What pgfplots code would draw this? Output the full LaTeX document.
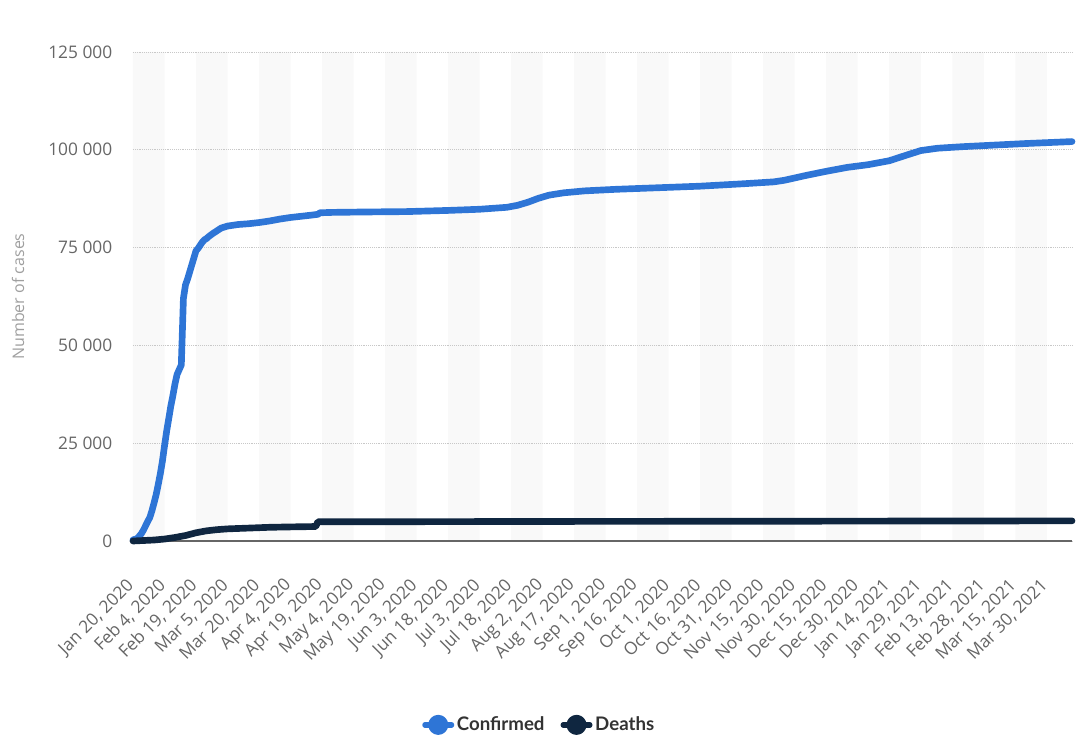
\documentclass[border=0pt]{standalone}
\usepackage{pgfplots}
\pgfplotsset{compat=1.18}
\usepackage{fontspec}
\setmainfont{Open Sans}
\newfontfamily\legendfont{Lato}
\definecolor{conf}{HTML}{2E75D6}
\definecolor{death}{HTML}{0F2640}
\definecolor{tickc}{HTML}{666666}
\definecolor{stripe}{HTML}{F9F9F9}
\definecolor{gridc}{HTML}{C8C8C8}

\begin{document}
\begin{tikzpicture}
\begin{axis}[
  set layers,
  scale only axis,
  width=704.25pt, height=366.75pt,
  xmin=0, xmax=447, ymin=0, ymax=125000,
  clip=false,
  scaled y ticks=false,
  axis line style={draw=none},
  tick style={draw=none},
  ytick={0,25000,50000,75000,100000,125000},
  yticklabels={0,25 000,50 000,75 000,100 000,125 000},
  yticklabel style={font=\fontsize{13}{15}\selectfont, color=tickc, xshift=-12pt},
  xtick={0,15,...,435},
  xticklabels={{Jan 20, 2020},{Feb 4, 2020},{Feb 19, 2020},{Mar 5, 2020},{Mar 20, 2020},{Apr 4, 2020},{Apr 19, 2020},{May 4, 2020},{May 19, 2020},{Jun 3, 2020},{Jun 18, 2020},{Jul 3, 2020},{Jul 18, 2020},{Aug 2, 2020},{Aug 17, 2020},{Sep 1, 2020},{Sep 16, 2020},{Oct 1, 2020},{Oct 16, 2020},{Oct 31, 2020},{Nov 15, 2020},{Nov 30, 2020},{Dec 15, 2020},{Dec 30, 2020},{Jan 14, 2021},{Jan 29, 2021},{Feb 13, 2021},{Feb 28, 2021},{Mar 15, 2021},{Mar 30, 2021}},
  xticklabel style={font=\fontsize{13}{15}\selectfont, color=tickc, yshift=-29pt, xshift=1pt, rotate=45, anchor=east},
  ymajorgrids,
  grid style={densely dotted, gridc, line width=0.7pt},
  every axis y label/.style={at={(axis description cs:-0.1225,0.5)}, rotate=90, anchor=center, font=\fontsize{12}{14}\selectfont, color=gray!75},
  ylabel={Number of cases},
  legend style={at={(0.433,-0.376)}, anchor=center, draw=none, fill=none, legend columns=2,
    font=\legendfont\bfseries\fontsize{14}{16}\selectfont, text=black!80,
    /tikz/every even column/.append style={column sep=10pt}},
  legend image code/.code={\draw[line width=4pt] (0pt,0pt) -- (20pt,0pt); \fill (10pt,0pt) circle (5pt);},
]
% alternating background bands
\addplot[ybar interval, fill=stripe, draw=none, forget plot, on layer=axis background] coordinates {
(0,125000) (15,0) (30,125000) (45,0) (60,125000) (75,0) (90,125000) (105,0) (120,125000) (135,0)
(150,125000) (165,0) (180,125000) (195,0) (210,125000) (225,0) (240,125000) (255,0) (270,125000) (285,0)
(300,125000) (315,0) (330,125000) (345,0) (360,125000) (375,0) (390,125000) (405,0) (420,125000) (435,0) (447,0)};
% zero line
\addplot[draw=tickc, line width=1.3pt, forget plot] coordinates {(0,0) (447,0)};

\addplot[color=conf, line width=5pt, line join=round, line cap=round] coordinates {
(0,300) (2,600) (4,1900) (5,2800) (7,5000) (8,6000) (9,7700) (10,9700) (11,11800) (12,14400)
(13,17200) (14,20400) (15,24300) (16,28000) (17,31200) (18,34500) (19,37200) (20,40200) (21,42600)
(22,43800) (23,45000) (24,62000) (25,65500) (26,67000) (27,68800) (28,70600) (29,72400) (30,74200)
(31,74800) (32,75600) (33,76400) (34,77000) (35,77300) (36,77800) (37,78200) (38,78600) (40,79300)
(42,80000) (45,80500) (50,80900) (55,81100) (60,81400) (65,81800) (70,82300) (75,82700) (80,83000)
(85,83300) (88,83500) (89,83900) (95,84000) (110,84100) (130,84200) (150,84500) (165,84800)
(178,85300) (183,85800) (188,86600) (193,87600) (198,88400) (205,89000) (215,89500) (230,89900)
(250,90300) (270,90700) (290,91300) (305,91800) (310,92200) (320,93400) (330,94500) (340,95500)
(350,96200) (360,97200) (368,98600) (375,99800) (383,100400) (395,100800) (410,101200) (425,101600) (447,102100)};
\addlegendentry{Confirmed}

\addplot[color=death, line width=5pt, line join=round, line cap=round] coordinates {
(0,0) (10,250) (15,500) (20,900) (25,1400) (30,2100) (35,2600) (40,2900) (45,3100) (55,3300)
(65,3500) (75,3600) (87,3700) (88,4900) (150,4950) (200,5000) (300,5050) (447,5150)};
\addlegendentry{Deaths}
\end{axis}
\pgfresetboundingbox
\path[use as bounding box] (-99.75pt,-147.75pt) rectangle (708.75pt,405.75pt);
\end{tikzpicture}
\end{document}
